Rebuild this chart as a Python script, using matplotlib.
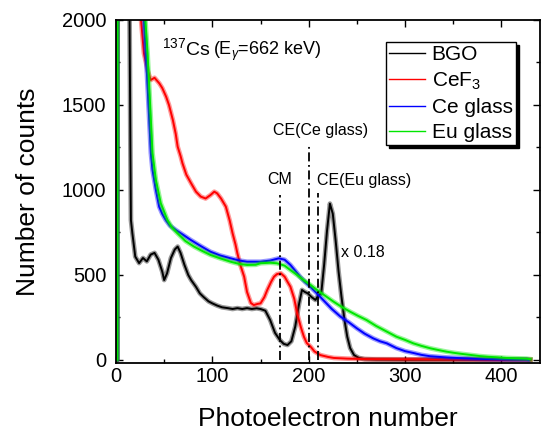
import matplotlib.pyplot as plt
from matplotlib.ticker import MultipleLocator

plt.rcParams['font.family'] = ['Liberation Sans', 'DejaVu Sans']
plt.rcParams['mathtext.fontset'] = 'custom'
plt.rcParams['mathtext.rm'] = 'Liberation Sans'
plt.rcParams['mathtext.it'] = 'Liberation Sans:italic'

# BGO (already scaled x 0.18)
bgo_x = [0, 1.0, 1.5, 12, 13, 14, 15, 15.5, 17, 20, 24, 28, 32, 36, 40, 44, 48, 50, 53, 57, 61, 64,
         67, 71, 75, 78, 83, 87, 91, 96, 100, 105, 110, 116, 121, 126, 131, 136, 141, 146, 150, 155, 160,
         165, 170, 174, 178, 182, 186, 190, 193, 196, 199, 203, 207, 210, 213, 216, 219, 222, 225, 228,
         231, 234, 237, 240, 243, 247, 252, 258, 270, 300, 350, 400, 430]
bgo_y = [0, 0, 3000, 3000, 2400, 2100, 1200, 823, 745, 608, 570, 600, 580, 620, 630, 590, 520, 470,
         510, 600, 650, 667, 630, 560, 500, 470, 430, 392, 370, 345, 333, 320, 310, 305, 300, 305, 300,
         305, 300, 304, 300, 290, 235, 160, 118, 95, 88, 110, 196, 330, 412, 400, 392, 370, 353, 380, 392,
         560, 760, 920, 860, 700, 520, 372, 240, 137, 70, 29, 12, 5, 3, 2, 2, 1, 0]

cef_x = [0, 1.5, 2.0, 24, 26, 29, 33, 36, 40, 45, 48, 52, 55, 59, 62, 64, 67, 69, 73, 78, 83,
         88, 93, 98, 102, 105, 109, 114, 118, 121, 124, 126, 129, 133, 136, 140, 143, 147, 150, 154, 157,
         161, 164, 167, 171, 175, 178, 181, 185, 188, 192, 195, 198, 202, 206, 212, 220, 226, 240, 260,
         300, 350, 400, 430]
cef_y = [0, 0, 4000, 2600, 2000, 1804, 1700, 1647, 1660, 1627, 1600, 1549, 1500, 1412, 1330,
         1255, 1200, 1157, 1090, 1039, 990, 961, 950, 970, 990, 980, 950, 902, 820, 745, 680, 627, 560,
         490, 400, 335, 323, 330, 333, 370, 412, 460, 490, 505, 510, 490, 460, 431, 360, 274, 190, 137,
         100, 78, 50, 29, 18, 12, 8, 5, 4, 3, 2, 2]

ce_x = [0, 1.5, 2.0, 27, 29, 31, 32.8, 34.5, 36.2, 37.9, 41.4, 44.8, 48, 51.7, 56, 62, 70,
        77.6, 88, 98, 108, 119, 128, 136, 145, 150, 160, 169, 175, 181, 186, 191, 196, 201.6, 208, 215,
        224, 233, 242, 250, 258, 267, 274, 281, 291, 300, 308, 317, 326, 343, 360, 380, 400, 415, 426, 428]
ce_y = [0, 0, 5000, 2400, 2000, 1804, 1608, 1412, 1216, 1118, 1000, 902, 860, 823, 790,
        765, 735, 706, 670, 637, 615, 598, 585, 578, 578, 578, 585, 598, 590, 559, 525, 490, 460, 431,
        395, 353, 300, 255, 220, 186, 155, 127, 110, 98, 70, 52, 42, 30, 22, 15, 10, 6, 4, 3, 3, 0]

eu_x = [0, 1.5, 2.0, 28.5, 30.5, 32.8, 34.5, 36.2, 37.9, 41.4, 46.5, 53.4, 58, 63.8, 72, 81,
        90, 98, 108, 119, 128, 136, 145, 150, 160, 167, 175, 181, 188, 194.7, 201, 208.6, 217, 225.8, 234,
        243, 251, 260, 270, 281, 291, 300, 308.5, 317, 326, 335, 343, 352, 360, 369, 377.5, 386, 395, 405,
        415, 426, 430]
eu_y = [0, 0, 5000, 2400, 2000, 1804, 1608, 1412, 1216, 1059, 922, 823, 780, 745, 700,
        667, 640, 618, 598, 578, 565, 559, 560, 569, 572, 569, 555, 529, 500, 470, 445, 412, 378, 343,
        313, 284, 260, 235, 200, 167, 137, 118, 98, 83, 69, 58, 49, 41, 35, 29, 23, 19, 16, 12, 10, 8, 5]

edge_x = [170, 200, 210]
edge_top = [970, 1265, 980]

fig = plt.figure(figsize=(5.41, 4.30), dpi=100)
ax = fig.add_axes([0.2144, 0.1565, 0.7837, 0.797])

series = [(bgo_x, bgo_y, 'black', 'BGO'),
          (cef_x, cef_y, '#ff0000', 'CeF$_3$'),
          (ce_x, ce_y, '#0000ff', 'Ce glass'),
          (eu_x, eu_y, '#00e600', 'Eu glass')]
handles = []
for x, y, c, lab in series:
    ax.plot(x, y, color=c, lw=3.4, alpha=0.4)
    h, = ax.plot(x, y, color=c, lw=1.4, label=lab)
    handles.append(h)

for xe, te in zip(edge_x, edge_top):
    ax.plot([xe, xe], [0, te], color='black', lw=1.3, ls=(0, (5, 2, 1, 2)))

ax.text(170, 1015, 'CM', ha='center', va='bottom', fontsize=11.5)
ax.text(212, 1305, 'CE(Ce glass)', ha='center', va='bottom', fontsize=11.5)
ax.text(209, 1012, 'CE(Eu glass)', ha='left', va='bottom', fontsize=11.5)
ax.text(233, 630, 'x 0.18', ha='left', va='center', fontsize=11.5)
ax.text(48, 1794, r'$^{137}$Cs', fontsize=14, va='baseline')
ax.text(101, 1794, r'(E$_{\gamma}$=662 keV)', fontsize=13, va='baseline')

ax.set_xlim(0, 440)
ax.set_ylim(-16, 2000)
ax.xaxis.set_major_locator(MultipleLocator(100))
ax.xaxis.set_minor_locator(MultipleLocator(50))
ax.yaxis.set_major_locator(MultipleLocator(500))
ax.yaxis.set_minor_locator(MultipleLocator(250))
ax.tick_params(which='both', direction='in', top=True, right=True, labelsize=14.5, width=1)
ax.tick_params(which='major', length=5)
ax.tick_params(which='minor', length=3)
ax.tick_params(axis='x', pad=3)
ax.tick_params(axis='y', pad=7)
for s in ax.spines.values():
    s.set_linewidth(1.3)

ax.set_xlabel('Photoelectron number', fontsize=19, labelpad=15)
ax.set_ylabel('Number of counts', fontsize=19, labelpad=16)

leg = ax.legend(handles=handles, loc='upper right', bbox_to_anchor=(0.943, 0.936), borderaxespad=0,
                fontsize=15, fancybox=False, edgecolor='black', framealpha=1, handlelength=1.75,
                handletextpad=0.3, borderpad=0.15, labelspacing=0.3,
                shadow={'shade': 1.0, 'alpha': 1.0})
leg.get_frame().set_linewidth(1.0)
for lh in leg.get_lines():
    lh.set_linewidth(1.0)

plt.savefig('out.png', dpi=100)
